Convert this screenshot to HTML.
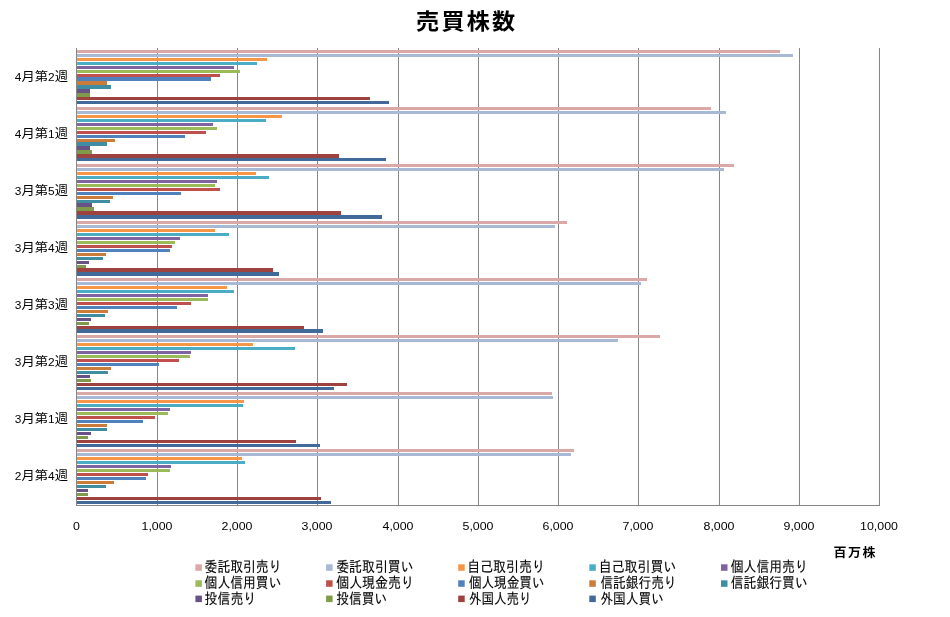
<!DOCTYPE html>
<html lang="ja"><head><meta charset="utf-8"><title>売買株数</title>
<style>html,body{margin:0;padding:0;background:#fff}svg{display:block}text{font-family:"Liberation Sans","IPAGothic","Noto Sans CJK JP",sans-serif;fill:#000}.t{font-family:"Liberation Sans","Noto Sans CJK JP",sans-serif;font-weight:bold;font-size:22px;letter-spacing:2.1px}.u{font-family:"Liberation Sans","Noto Sans CJK JP",sans-serif;font-weight:bold;font-size:12.6px;letter-spacing:1.4px}.c{font-family:"Liberation Sans","Noto Sans CJK JP",sans-serif;font-size:13.3px}.c tspan{font-size:11.9px}.n{font-size:12.4px}.l{font-size:15px;stroke:#000;stroke-width:0.12px}</style></head><body>
<svg width="950" height="617" viewBox="0 0 950 617">
<rect width="950" height="617" fill="#fff"/>
<g fill="#868686" shape-rendering="crispEdges">
<rect x="157" y="48" width="1" height="458"/>
<rect x="237" y="48" width="1" height="458"/>
<rect x="317" y="48" width="1" height="458"/>
<rect x="398" y="48" width="1" height="458"/>
<rect x="478" y="48" width="1" height="458"/>
<rect x="558" y="48" width="1" height="458"/>
<rect x="638" y="48" width="1" height="458"/>
<rect x="719" y="48" width="1" height="458"/>
<rect x="799" y="48" width="1" height="458"/>
<rect x="879" y="48" width="1" height="458"/>
</g>
<g shape-rendering="crispEdges">
<rect x="77" y="50" width="703" height="3" fill="#D9A8A7"/>
<rect x="77" y="54" width="716" height="3" fill="#A8B9D6"/>
<rect x="77" y="58" width="190" height="3" fill="#F79646"/>
<rect x="77" y="62" width="180" height="3" fill="#4BACC6"/>
<rect x="77" y="66" width="157" height="3" fill="#8064A2"/>
<rect x="77" y="70" width="163" height="3" fill="#9BBB59"/>
<rect x="77" y="74" width="143" height="3" fill="#C0504D"/>
<rect x="77" y="77" width="134" height="4" fill="#4F81BD"/>
<rect x="77" y="81" width="30" height="4" fill="#CB7B3A"/>
<rect x="77" y="85" width="34" height="4" fill="#3E8DA3"/>
<rect x="77" y="89" width="13" height="4" fill="#695285"/>
<rect x="77" y="93" width="13" height="4" fill="#7F9A49"/>
<rect x="77" y="97" width="293" height="3" fill="#9E423F"/>
<rect x="77" y="101" width="312" height="3" fill="#416A9B"/>
<rect x="77" y="107" width="634" height="3" fill="#D9A8A7"/>
<rect x="77" y="111" width="649" height="3" fill="#A8B9D6"/>
<rect x="77" y="115" width="205" height="3" fill="#F79646"/>
<rect x="77" y="119" width="189" height="3" fill="#4BACC6"/>
<rect x="77" y="123" width="136" height="3" fill="#8064A2"/>
<rect x="77" y="127" width="140" height="3" fill="#9BBB59"/>
<rect x="77" y="131" width="129" height="3" fill="#C0504D"/>
<rect x="77" y="135" width="108" height="3" fill="#4F81BD"/>
<rect x="77" y="139" width="38" height="3" fill="#CB7B3A"/>
<rect x="77" y="142" width="30" height="4" fill="#3E8DA3"/>
<rect x="77" y="146" width="13" height="4" fill="#695285"/>
<rect x="77" y="150" width="15" height="4" fill="#7F9A49"/>
<rect x="77" y="154" width="262" height="4" fill="#9E423F"/>
<rect x="77" y="158" width="309" height="3" fill="#416A9B"/>
<rect x="77" y="164" width="657" height="3" fill="#D9A8A7"/>
<rect x="77" y="168" width="647" height="3" fill="#A8B9D6"/>
<rect x="77" y="172" width="179" height="3" fill="#F79646"/>
<rect x="77" y="176" width="192" height="3" fill="#4BACC6"/>
<rect x="77" y="180" width="140" height="3" fill="#8064A2"/>
<rect x="77" y="184" width="138" height="3" fill="#9BBB59"/>
<rect x="77" y="188" width="143" height="3" fill="#C0504D"/>
<rect x="77" y="192" width="104" height="3" fill="#4F81BD"/>
<rect x="77" y="196" width="36" height="3" fill="#CB7B3A"/>
<rect x="77" y="200" width="33" height="3" fill="#3E8DA3"/>
<rect x="77" y="203" width="15" height="4" fill="#695285"/>
<rect x="77" y="207" width="17" height="4" fill="#7F9A49"/>
<rect x="77" y="211" width="264" height="4" fill="#9E423F"/>
<rect x="77" y="215" width="305" height="4" fill="#416A9B"/>
<rect x="77" y="221" width="490" height="3" fill="#D9A8A7"/>
<rect x="77" y="225" width="478" height="3" fill="#A8B9D6"/>
<rect x="77" y="229" width="138" height="3" fill="#F79646"/>
<rect x="77" y="233" width="152" height="3" fill="#4BACC6"/>
<rect x="77" y="237" width="103" height="3" fill="#8064A2"/>
<rect x="77" y="241" width="98" height="3" fill="#9BBB59"/>
<rect x="77" y="245" width="95" height="3" fill="#C0504D"/>
<rect x="77" y="249" width="93" height="3" fill="#4F81BD"/>
<rect x="77" y="253" width="29" height="3" fill="#CB7B3A"/>
<rect x="77" y="257" width="26" height="3" fill="#3E8DA3"/>
<rect x="77" y="261" width="12" height="3" fill="#695285"/>
<rect x="77" y="265" width="9" height="3" fill="#7F9A49"/>
<rect x="77" y="268" width="196" height="4" fill="#9E423F"/>
<rect x="77" y="272" width="202" height="4" fill="#416A9B"/>
<rect x="77" y="278" width="570" height="3" fill="#D9A8A7"/>
<rect x="77" y="282" width="564" height="3" fill="#A8B9D6"/>
<rect x="77" y="286" width="150" height="3" fill="#F79646"/>
<rect x="77" y="290" width="157" height="3" fill="#4BACC6"/>
<rect x="77" y="294" width="131" height="3" fill="#8064A2"/>
<rect x="77" y="298" width="131" height="3" fill="#9BBB59"/>
<rect x="77" y="302" width="114" height="3" fill="#C0504D"/>
<rect x="77" y="306" width="100" height="3" fill="#4F81BD"/>
<rect x="77" y="310" width="31" height="3" fill="#CB7B3A"/>
<rect x="77" y="314" width="28" height="3" fill="#3E8DA3"/>
<rect x="77" y="318" width="14" height="3" fill="#695285"/>
<rect x="77" y="322" width="12" height="3" fill="#7F9A49"/>
<rect x="77" y="326" width="227" height="3" fill="#9E423F"/>
<rect x="77" y="329" width="246" height="4" fill="#416A9B"/>
<rect x="77" y="335" width="583" height="3" fill="#D9A8A7"/>
<rect x="77" y="339" width="541" height="3" fill="#A8B9D6"/>
<rect x="77" y="343" width="176" height="3" fill="#F79646"/>
<rect x="77" y="347" width="218" height="3" fill="#4BACC6"/>
<rect x="77" y="351" width="114" height="3" fill="#8064A2"/>
<rect x="77" y="355" width="113" height="3" fill="#9BBB59"/>
<rect x="77" y="359" width="102" height="3" fill="#C0504D"/>
<rect x="77" y="363" width="82" height="3" fill="#4F81BD"/>
<rect x="77" y="367" width="34" height="3" fill="#CB7B3A"/>
<rect x="77" y="371" width="31" height="3" fill="#3E8DA3"/>
<rect x="77" y="375" width="13" height="3" fill="#695285"/>
<rect x="77" y="379" width="14" height="3" fill="#7F9A49"/>
<rect x="77" y="383" width="270" height="3" fill="#9E423F"/>
<rect x="77" y="387" width="257" height="3" fill="#416A9B"/>
<rect x="77" y="392" width="475" height="3" fill="#D9A8A7"/>
<rect x="77" y="396" width="476" height="3" fill="#A8B9D6"/>
<rect x="77" y="400" width="167" height="3" fill="#F79646"/>
<rect x="77" y="404" width="166" height="3" fill="#4BACC6"/>
<rect x="77" y="408" width="93" height="3" fill="#8064A2"/>
<rect x="77" y="412" width="91" height="3" fill="#9BBB59"/>
<rect x="77" y="416" width="78" height="3" fill="#C0504D"/>
<rect x="77" y="420" width="66" height="3" fill="#4F81BD"/>
<rect x="77" y="424" width="30" height="3" fill="#CB7B3A"/>
<rect x="77" y="428" width="30" height="3" fill="#3E8DA3"/>
<rect x="77" y="432" width="14" height="3" fill="#695285"/>
<rect x="77" y="436" width="11" height="3" fill="#7F9A49"/>
<rect x="77" y="440" width="219" height="3" fill="#9E423F"/>
<rect x="77" y="444" width="243" height="3" fill="#416A9B"/>
<rect x="77" y="449" width="497" height="3" fill="#D9A8A7"/>
<rect x="77" y="453" width="494" height="3" fill="#A8B9D6"/>
<rect x="77" y="457" width="165" height="3" fill="#F79646"/>
<rect x="77" y="461" width="168" height="3" fill="#4BACC6"/>
<rect x="77" y="465" width="94" height="3" fill="#8064A2"/>
<rect x="77" y="469" width="93" height="3" fill="#9BBB59"/>
<rect x="77" y="473" width="71" height="3" fill="#C0504D"/>
<rect x="77" y="477" width="69" height="3" fill="#4F81BD"/>
<rect x="77" y="481" width="37" height="3" fill="#CB7B3A"/>
<rect x="77" y="485" width="29" height="3" fill="#3E8DA3"/>
<rect x="77" y="489" width="11" height="3" fill="#695285"/>
<rect x="77" y="493" width="11" height="3" fill="#7F9A49"/>
<rect x="77" y="497" width="244" height="3" fill="#9E423F"/>
<rect x="77" y="501" width="254" height="3" fill="#416A9B"/>
</g>
<g fill="#868686" shape-rendering="crispEdges">
<rect x="76" y="48" width="1" height="458"/>
<rect x="76" y="505" width="804" height="1"/>
</g>
<text class="t" transform="translate(416.1,28.8) scale(1.05,1)">売買株数</text>
<text class="c" transform="translate(68,81.1) scale(1,0.91)" text-anchor="end"><tspan>4</tspan>月第<tspan>2</tspan>週</text>
<text class="c" transform="translate(68,138.1) scale(1,0.91)" text-anchor="end"><tspan>4</tspan>月第<tspan>1</tspan>週</text>
<text class="c" transform="translate(68,195.1) scale(1,0.91)" text-anchor="end"><tspan>3</tspan>月第<tspan>5</tspan>週</text>
<text class="c" transform="translate(68,252.1) scale(1,0.91)" text-anchor="end"><tspan>3</tspan>月第<tspan>4</tspan>週</text>
<text class="c" transform="translate(68,309.1) scale(1,0.91)" text-anchor="end"><tspan>3</tspan>月第<tspan>3</tspan>週</text>
<text class="c" transform="translate(68,366.1) scale(1,0.91)" text-anchor="end"><tspan>3</tspan>月第<tspan>2</tspan>週</text>
<text class="c" transform="translate(68,423.1) scale(1,0.91)" text-anchor="end"><tspan>3</tspan>月第<tspan>1</tspan>週</text>
<text class="c" transform="translate(68,480.1) scale(1,0.91)" text-anchor="end"><tspan>2</tspan>月第<tspan>4</tspan>週</text>
<text class="n" transform="translate(76.5,530.2) scale(1,0.94)" text-anchor="middle">0</text>
<text class="n" transform="translate(157.0,530.2) scale(1,0.94)" text-anchor="middle">1,000</text>
<text class="n" transform="translate(237.0,530.2) scale(1,0.94)" text-anchor="middle">2,000</text>
<text class="n" transform="translate(317.0,530.2) scale(1,0.94)" text-anchor="middle">3,000</text>
<text class="n" transform="translate(398.0,530.2) scale(1,0.94)" text-anchor="middle">4,000</text>
<text class="n" transform="translate(478.0,530.2) scale(1,0.94)" text-anchor="middle">5,000</text>
<text class="n" transform="translate(558.0,530.2) scale(1,0.94)" text-anchor="middle">6,000</text>
<text class="n" transform="translate(638.0,530.2) scale(1,0.94)" text-anchor="middle">7,000</text>
<text class="n" transform="translate(719.0,530.2) scale(1,0.94)" text-anchor="middle">8,000</text>
<text class="n" transform="translate(799.0,530.2) scale(1,0.94)" text-anchor="middle">9,000</text>
<text class="n" transform="translate(879.0,530.2) scale(1,0.94)" text-anchor="middle">10,000</text>
<text class="u" transform="translate(833.6,556.6) scale(1.03,0.97)">百万株</text>
<rect x="195.4" y="564.3" width="6.5" height="6.5" fill="#D9A8A7"/>
<text class="l" x="204.6" y="571.6" textLength="76.9" lengthAdjust="spacingAndGlyphs">委託取引売り</text>
<rect x="326.1" y="564.3" width="6.5" height="6.5" fill="#A8B9D6"/>
<text class="l" x="336.2" y="571.6" textLength="77.5" lengthAdjust="spacingAndGlyphs">委託取引買い</text>
<rect x="458.2" y="564.3" width="6.5" height="6.5" fill="#F79646"/>
<text class="l" x="467.2" y="571.6" textLength="77.7" lengthAdjust="spacingAndGlyphs">自己取引売り</text>
<rect x="589.3" y="564.3" width="6.5" height="6.5" fill="#4BACC6"/>
<text class="l" x="598.7" y="571.6" textLength="77.8" lengthAdjust="spacingAndGlyphs">自己取引買い</text>
<rect x="721.0" y="564.3" width="6.5" height="6.5" fill="#8064A2"/>
<text class="l" x="730.8" y="571.6" textLength="76.9" lengthAdjust="spacingAndGlyphs">個人信用売り</text>
<rect x="195.4" y="580.3" width="6.5" height="6.5" fill="#9BBB59"/>
<text class="l" x="204.6" y="588.0" textLength="76.9" lengthAdjust="spacingAndGlyphs">個人信用買い</text>
<rect x="326.1" y="580.3" width="6.5" height="6.5" fill="#C0504D"/>
<text class="l" x="336.2" y="588.0" textLength="77.8" lengthAdjust="spacingAndGlyphs">個人現金売り</text>
<rect x="458.2" y="580.3" width="6.5" height="6.5" fill="#4F81BD"/>
<text class="l" x="468.9" y="588.0" textLength="75.6" lengthAdjust="spacingAndGlyphs">個人現金買い</text>
<rect x="589.3" y="580.3" width="6.5" height="6.5" fill="#CB7B3A"/>
<text class="l" x="600.4" y="588.0" textLength="76.1" lengthAdjust="spacingAndGlyphs">信託銀行売り</text>
<rect x="721.0" y="580.3" width="6.5" height="6.5" fill="#3E8DA3"/>
<text class="l" x="730.8" y="588.0" textLength="76.9" lengthAdjust="spacingAndGlyphs">信託銀行買い</text>
<rect x="195.4" y="595.6" width="6.5" height="6.5" fill="#695285"/>
<text class="l" x="204.6" y="604.0" textLength="51.7" lengthAdjust="spacingAndGlyphs">投信売り</text>
<rect x="326.1" y="595.6" width="6.5" height="6.5" fill="#7F9A49"/>
<text class="l" x="336.2" y="604.0" textLength="51.2" lengthAdjust="spacingAndGlyphs">投信買い</text>
<rect x="458.2" y="595.6" width="6.5" height="6.5" fill="#9E423F"/>
<text class="l" x="468.9" y="604.0" textLength="62.5" lengthAdjust="spacingAndGlyphs">外国人売り</text>
<rect x="589.3" y="595.6" width="6.5" height="6.5" fill="#416A9B"/>
<text class="l" x="600.4" y="604.0" textLength="63.5" lengthAdjust="spacingAndGlyphs">外国人買い</text>
</svg></body></html>
